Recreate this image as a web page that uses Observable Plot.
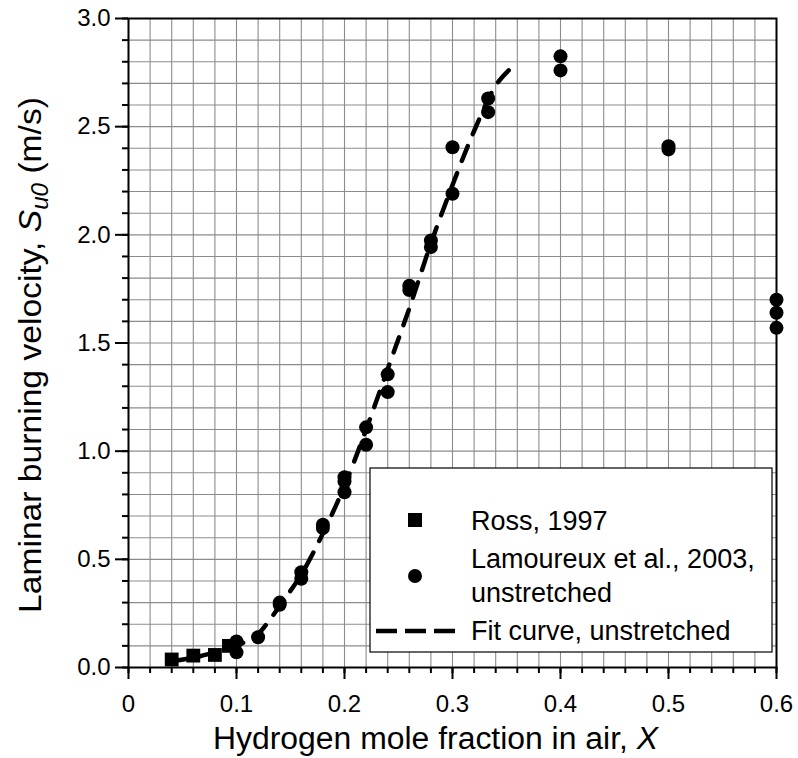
<!DOCTYPE html>
<html>
<head>
<meta charset="utf-8">
<script src="https://cdn.jsdelivr.net/npm/d3@7"></script>
<script src="https://cdn.jsdelivr.net/npm/@observablehq/plot@0.6"></script>
<style>
  html, body { margin: 0; padding: 0; background: #fff; }
  #chart svg { display: block; }
</style>
</head>
<body>
<div id="chart"></div>
<script>
// ---- data ----
const rossX = [0.04, 0.06, 0.08, 0.093];
const rossY = [0.037, 0.055, 0.058, 0.10];

const lamX = [0.10, 0.10, 0.12, 0.14, 0.14, 0.16, 0.16, 0.18, 0.18, 0.20, 0.20, 0.20,
              0.22, 0.22, 0.24, 0.24, 0.26, 0.26, 0.28, 0.28, 0.30, 0.30, 0.333, 0.333,
              0.40, 0.40, 0.50, 0.50, 0.60, 0.60, 0.60];
const lamY = [0.12, 0.07, 0.14, 0.30, 0.29, 0.44, 0.41, 0.66, 0.645, 0.88, 0.86, 0.81,
              1.11, 1.03, 1.355, 1.273, 1.765, 1.745, 1.974, 1.944, 2.405, 2.19, 2.63, 2.567,
              2.825, 2.76, 2.41, 2.395, 1.70, 1.64, 1.57];

const fitX = [0.04, 0.06, 0.08, 0.10, 0.11, 0.12, 0.13, 0.14, 0.16, 0.18, 0.20, 0.22,
              0.24, 0.26, 0.28, 0.30, 0.32, 0.34, 0.352];
const fitY = [0.03, 0.045, 0.07, 0.10, 0.125, 0.155, 0.215, 0.285, 0.43, 0.62, 0.84, 1.10,
              1.38, 1.66, 1.96, 2.23, 2.48, 2.69, 2.76];

const xMajorTicks = [0, 0.1, 0.2, 0.3, 0.4, 0.5, 0.6];
const xTickLabels = ["0", "0.1", "0.2", "0.3", "0.4", "0.5", "0.6"];
const xMinorTicks = d3.range(0, 31).map(i => i / 50);
const yMajorTicks = [0, 0.5, 1.0, 1.5, 2.0, 2.5, 3.0];
const yTickLabels = ["0.0", "0.5", "1.0", "1.5", "2.0", "2.5", "3.0"];
const yMinorTicks = d3.range(0, 31).map(i => i / 10);

const legendLabels = ["Ross, 1997", "Lamoureux et al., 2003,", "unstretched", "Fit curve, unstretched"];
const xTitle = "Hydrogen mole fraction in air, ";
const xTitleItalic = "X";

// ---- tables ----
const ross = rossX.map((x, i) => ({x, y: rossY[i]}));
const lam = lamX.map((x, i) => ({x, y: lamY[i]}));
const fit = fitX.map((x, i) => ({x, y: fitY[i]}));

const W = 798, H = 758;
const mL = 128, mR = 22, mT = 18, mB = 91;
const FONT = "'Liberation Sans', Arial, Helvetica, sans-serif";
const gridColor = "#8c8c8c";

const chart = Plot.plot({
  width: W, height: H,
  marginLeft: mL, marginRight: mR, marginTop: mT, marginBottom: mB,
  style: {fontFamily: FONT, fontSize: "24px", color: "#000", background: "#fff", overflow: "visible"},
  x: {domain: [0, 0.6]},
  y: {domain: [0, 3]},
  marks: [
    Plot.gridX(xMinorTicks, {stroke: gridColor, strokeOpacity: 1, strokeWidth: 1.1}),
    Plot.gridY(yMinorTicks, {stroke: gridColor, strokeOpacity: 1, strokeWidth: 1.1}),
    Plot.line(fit, {x: "x", y: "y", stroke: "#000", strokeWidth: 4.5, strokeDasharray: "16,13",
      strokeLinecap: "round", curve: "catmull-rom"}),
    Plot.dot(ross, {x: "x", y: "y", symbol: "square", r: 7.8, fill: "#000", stroke: "none"}),
    Plot.dot(lam, {x: "x", y: "y", r: 7, fill: "#000", stroke: "none"}),
    Plot.axisX(xMinorTicks, {tickSize: 6, strokeWidth: 2, text: null, label: null}),
    Plot.axisX(xMajorTicks, {tickSize: 12, strokeWidth: 2, tickPadding: 15, label: null,
      tickFormat: d => xTickLabels[xMajorTicks.indexOf(d)], fontSize: 24}),
    Plot.axisY(yMinorTicks, {tickSize: 6, strokeWidth: 2, text: null, label: null}),
    Plot.axisY(yMajorTicks, {tickSize: 13, strokeWidth: 2, tickPadding: 5, label: null,
      tickFormat: d => yTickLabels[yMajorTicks.indexOf(d)], fontSize: 24}),
    Plot.frame({stroke: "#000", strokeWidth: 2})
  ]
});

document.getElementById("chart").appendChild(chart);

// ---- titles and legend drawn into the same SVG ----
const svg = d3.select(chart);

const xt = svg.append("text")
  .attr("x", 213).attr("y", 749)
  .attr("text-anchor", "start")
  .attr("font-family", FONT).attr("font-size", 31).attr("fill", "#000")
  .attr("textLength", 445).attr("lengthAdjust", "spacingAndGlyphs");
xt.append("tspan").text(xTitle);
xt.append("tspan").attr("font-style", "italic").text(xTitleItalic);

const yt = svg.append("text")
  .attr("transform", "translate(41,355) rotate(-90)")
  .attr("text-anchor", "middle")
  .attr("font-family", FONT).attr("font-size", 32).attr("fill", "#000")
  .attr("textLength", 516).attr("lengthAdjust", "spacingAndGlyphs");
yt.append("tspan").text("Laminar burning velocity, ");
yt.append("tspan").attr("font-style", "italic").text("S");
yt.append("tspan").attr("font-style", "italic").attr("font-size", 23).attr("dy", 7).text("u0");
yt.append("tspan").attr("dy", -7).text(" (m/s)");

// legend
const lg = svg.append("g").attr("text-anchor", "start");
lg.append("rect").attr("x", 370).attr("y", 468).attr("width", 402).attr("height", 184)
  .attr("fill", "#fff").attr("stroke", "#000").attr("stroke-width", 1.2);
lg.append("rect").attr("x", 408).attr("y", 513).attr("width", 14).attr("height", 14).attr("fill", "#000");
lg.append("circle").attr("cx", 415).attr("cy", 576).attr("r", 7).attr("fill", "#000");
lg.append("line").attr("x1", 376).attr("x2", 455).attr("y1", 631).attr("y2", 631)
  .attr("stroke", "#000").attr("stroke-width", 4.5).attr("stroke-dasharray", "21,8")
  .attr("stroke-linecap", "butt");
const lt = [[471, 530], [471, 568], [471, 602], [471, 640]];
legendLabels.forEach((t, i) => {
  lg.append("text").attr("x", lt[i][0]).attr("y", lt[i][1])
    .attr("text-anchor", "start")
    .attr("font-family", FONT).attr("font-size", 27).attr("fill", "#000").text(t);
});
</script>
</body>
</html>
